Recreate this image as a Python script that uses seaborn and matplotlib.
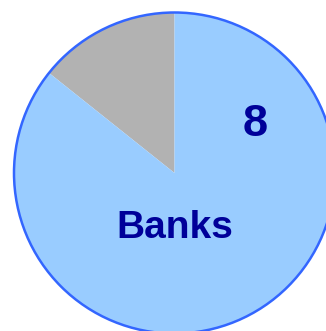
import matplotlib
matplotlib.use("Agg")
import matplotlib.pyplot as plt
import seaborn as sns
from matplotlib.patches import Circle

# Data
categories = ["Other", "Banks"]
values = [1, 6]
colors = ["#B2B2B2", "#99CCFF"]
count_label = "8"
category_label = "Banks"

sns.set_theme(style="white")
plt.rcParams['font.family'] = ['Liberation Sans', 'DejaVu Sans']

W, H = 326, 331
fig = plt.figure(figsize=(W / 100, H / 100), dpi=100)
ax = fig.add_axes([0, 0, 1, 1])

cx, cy, r = 174.5, H - 173, 160.5
ax.pie(values, colors=colors, startangle=90, counterclock=True,
       center=(cx, cy), radius=r, wedgeprops=dict(linewidth=0))
ax.add_patch(Circle((cx, cy), r, fill=False, edgecolor="#3366FF", linewidth=1.8))

ax.text(255.5, H - 136.5, count_label, ha="center", va="baseline",
        fontsize=32.5, fontweight="bold", color="#000099")
ax.text(175, H - 238.5, category_label, ha="center", va="baseline",
        fontsize=28, fontweight="bold", color="#000099")

ax.set_xlim(0, W)
ax.set_ylim(0, H)
ax.set_aspect("equal")
ax.axis("off")
fig.savefig("out.png", dpi=100, facecolor="white")
